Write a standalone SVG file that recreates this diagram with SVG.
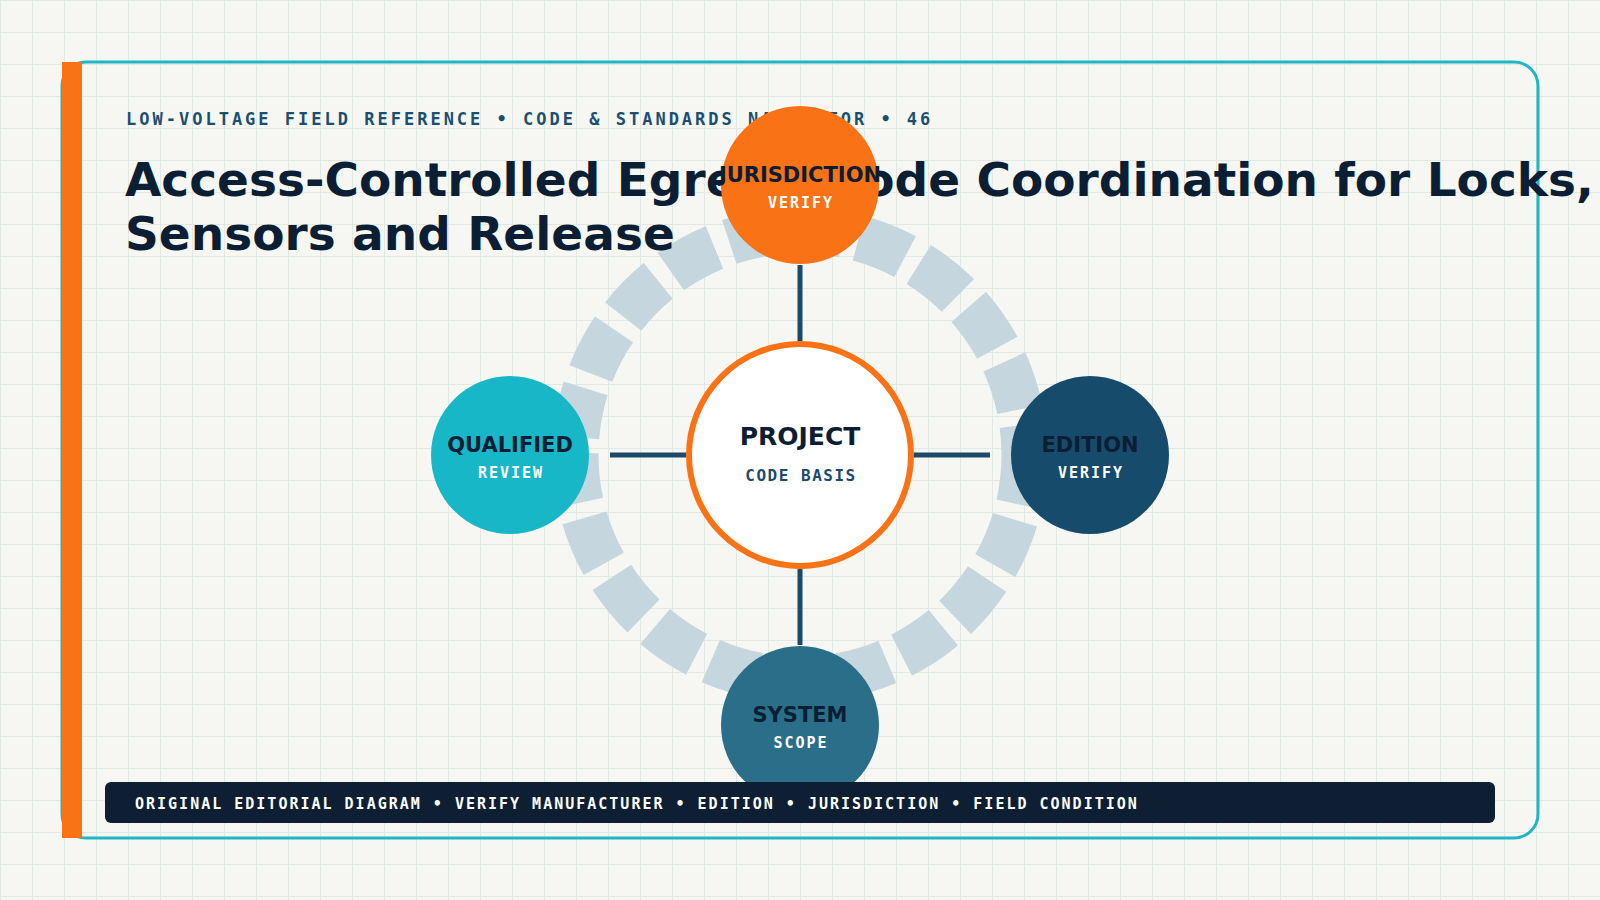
<svg xmlns="http://www.w3.org/2000/svg" width="1600" height="900" viewBox="0 0 1600 900">
  <defs>
    <pattern id="grid" width="32" height="32" patternUnits="userSpaceOnUse">
      <path d="M0 0.5H32M0.5 0V32" fill="none" stroke="#e2e9e4" stroke-width="1"/>
    </pattern>
    <style>
      .sans { font-family: "DejaVu Sans", "Liberation Sans", sans-serif; font-weight: bold; }
      .mono { font-family: "DejaVu Sans Mono", "Liberation Mono", monospace; font-weight: bold; }
      .lbl { font-size: 21px; fill: #0c1e33; text-anchor: middle; }
      .sub { font-size: 15px; fill: #ffffff; letter-spacing: 2px; text-anchor: middle; }
      .conn { stroke: #1b4a6b; stroke-width: 5; fill: none; }
    </style>
  </defs>

  <rect width="1600" height="900" fill="#f6f7f3"/>
  <rect width="1600" height="900" fill="url(#grid)"/>

  <rect x="62" y="62" width="1476" height="776" rx="24" fill="none" stroke="#1fb6c5" stroke-width="3"/>
  <rect x="62" y="62" width="20" height="776" fill="#f97316"/>

  <circle id="ring" cx="800" cy="455" r="224.5" fill="none" stroke="#c6d6de" stroke-width="46" stroke-dasharray="50 15.7"/>

  <text class="mono" x="126" y="125" font-size="17" letter-spacing="3" fill="#1b4f72">LOW-VOLTAGE FIELD REFERENCE • CODE &amp; STANDARDS NAVIGATOR • 46</text>
  <text class="sans" font-size="47" fill="#0c1e33">
    <tspan x="125" y="196">Access-Controlled Egress <tspan dx="18">Code Coordination for Locks,</tspan></tspan>
    <tspan x="125" y="250">Sensors and Release</tspan>
  </text>

  <g id="connectors">
    <line class="conn" x1="800" y1="265" x2="800" y2="341"/>
    <line class="conn" x1="800" y1="569" x2="800" y2="645"/>
    <line class="conn" x1="610" y1="455" x2="686" y2="455"/>
    <line class="conn" x1="914" y1="455" x2="990" y2="455"/>
  </g>

  <g id="node-project">
    <circle cx="800" cy="455" r="111" fill="#ffffff" stroke="#f97316" stroke-width="6"/>
    <text class="sans" x="800" y="445" font-size="25" fill="#0c1e33" text-anchor="middle">PROJECT</text>
    <text class="mono" x="801" y="481" font-size="16" letter-spacing="1.5" fill="#1b4a6b" text-anchor="middle">CODE BASIS</text>
  </g>

  <g id="node-jurisdiction">
    <circle cx="800" cy="185" r="79" fill="#f97316"/>
    <text class="sans lbl" x="800" y="181.7">JURISDICTION</text>
    <text class="mono sub" x="801" y="208.3">VERIFY</text>
  </g>

  <g id="node-qualified">
    <circle cx="510" cy="455" r="79" fill="#17b7c7"/>
    <text class="sans lbl" x="510" y="451.7">QUALIFIED</text>
    <text class="mono sub" x="511" y="478.3">REVIEW</text>
  </g>

  <g id="node-edition">
    <circle cx="1090" cy="455" r="79" fill="#174b6c"/>
    <text class="sans lbl" x="1090" y="451.7">EDITION</text>
    <text class="mono sub" x="1091" y="478.3">VERIFY</text>
  </g>

  <g id="node-system">
    <circle cx="800" cy="725" r="79" fill="#2a6e8a"/>
    <text class="sans lbl" x="800" y="721.7">SYSTEM</text>
    <text class="mono sub" x="801" y="748.3">SCOPE</text>
  </g>

  <g id="footer">
    <rect x="105" y="782" width="1390" height="41" rx="6" fill="#0e1f33"/>
    <text class="mono" x="135" y="809" font-size="15" letter-spacing="2" fill="#ffffff">ORIGINAL EDITORIAL DIAGRAM • VERIFY MANUFACTURER • EDITION • JURISDICTION • FIELD CONDITION</text>
  </g>
</svg>
